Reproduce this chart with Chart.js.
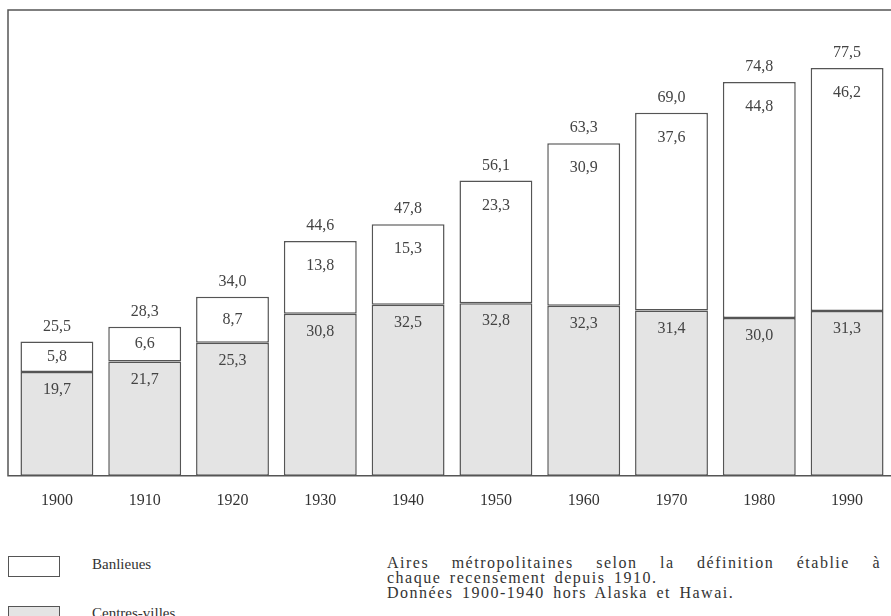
<!DOCTYPE html>
<html lang="fr">
<head>
<meta charset="utf-8">
<script src="https://cdn.jsdelivr.net/npm/chart.js@4"></script>
<style>
    html, body { margin: 0; padding: 0; background: #fff; }
    body { width: 891px; height: 616px; position: relative; overflow: hidden;
           font-family: "Liberation Serif", "DejaVu Serif", serif; color: #333; }
    #wrap { position: absolute; left: 0; top: 0; width: 891px; height: 535px; }
    .legend-box { position: absolute; left: 8px; width: 52px; height: 21px;
                  border: 1.5px solid #555; box-sizing: border-box; }
    .legend-text { position: absolute; left: 92px; font-size: 15px; line-height: 16px; }
    #note { position: absolute; left: 387px; top: 555px; width: 494px;
            font-size: 16px; line-height: 15px; letter-spacing: 1.5px; word-spacing: 3px; }
    #note div.just { text-align: justify; text-align-last: justify; }
</style>
</head>
<body>
<div id="wrap"><canvas id="popChart"></canvas></div>

<div class="legend-box" style="top:556px;background:#fff"></div>
<div class="legend-text" style="top:556px">Banlieues</div>
<div class="legend-box" style="top:606px;background:#e4e4e4"></div>
<div class="legend-text" style="top:605px">Centres-villes</div>

<div id="note">
    <div class="just">Aires métropolitaines selon la définition établie à</div>
    <div>chaque recensement depuis 1910.</div>
    <div>Données 1900-1940 hors Alaska et Hawai.</div>
</div>

<script>
// Data (millions d'habitants)
const years = ['1900', '1910', '1920', '1930', '1940', '1950', '1960', '1970', '1980', '1990'];
const centresVilles = [19.7, 21.7, 25.3, 30.8, 32.5, 32.8, 32.3, 31.4, 30.0, 31.3];
const banlieues = [5.8, 6.6, 8.7, 13.8, 15.3, 23.3, 30.9, 37.6, 44.8, 46.2];
const totals = [25.5, 28.3, 34.0, 44.6, 47.8, 56.1, 63.3, 69.0, 74.8, 77.5];

const lineColor = '#555';
const textColor = '#444';
const serif = '"Liberation Serif", "DejaVu Serif", serif';

function fmt(v) {
    return v.toFixed(1).replace('.', ',');
}

// Frame around the plot (left, top, baseline)
const framePlugin = {
    id: 'frame',
    afterDatasetsDraw(chart) {
        const ctx = chart.ctx;
        const area = chart.chartArea;
        const base = chart.scales.y.getPixelForValue(0);
        ctx.save();
        ctx.strokeStyle = lineColor;
        ctx.lineWidth = 1.5;
        ctx.beginPath();
        ctx.moveTo(chart.width, area.top);
        ctx.lineTo(8, area.top);
        ctx.lineTo(8, base);
        ctx.lineTo(chart.width, base);
        ctx.stroke();
        ctx.restore();
    }
};

// Value labels inside and above the bars
const labelPlugin = {
    id: 'valueLabels',
    afterDatasetsDraw(chart) {
        const ctx = chart.ctx;
        const low = chart.getDatasetMeta(0).data;
        const high = chart.getDatasetMeta(1).data;
        ctx.save();
        ctx.fillStyle = textColor;
        ctx.font = '16px ' + serif;
        ctx.textAlign = 'center';
        ctx.textBaseline = 'middle';
        years.forEach((y, i) => {
            const a = low[i];
            ctx.fillText(fmt(centresVilles[i]), a.x, a.y + 18);
            const b = high[i];
            const mid = (b.y + b.base) / 2;
            ctx.fillText(fmt(banlieues[i]), b.x, Math.min(b.y + 25, mid));
            ctx.fillText(fmt(totals[i]), b.x, b.y - 15);
        });
        ctx.restore();
    }
};

document.addEventListener('DOMContentLoaded', function() {
    const ctx = document.getElementById('popChart').getContext('2d');
    new Chart(ctx, {
        type: 'bar',
        data: {
            labels: years,
            datasets: [{
                label: 'Centres-villes',
                data: centresVilles,
                backgroundColor: '#e4e4e4',
                borderColor: lineColor,
                borderWidth: 1.5,
                borderSkipped: false
            }, {
                label: 'Banlieues',
                data: banlieues,
                backgroundColor: '#ffffff',
                borderColor: lineColor,
                borderWidth: 1.5,
                borderSkipped: false
            }]
        },
        options: {
            responsive: true,
            maintainAspectRatio: false,
            animation: false,
            datasets: {
                bar: { barPercentage: 0.83, categoryPercentage: 1.0 }
            },
            layout: { padding: { top: 10, left: 13, right: 0, bottom: 10 } },
            scales: {
                x: {
                    stacked: true,
                    grid: { display: false, drawTicks: false },
                    border: { display: false },
                    ticks: {
                        color: '#333',
                        font: { family: serif, size: 16 },
                        padding: 15,
                        maxRotation: 0
                    }
                },
                y: {
                    stacked: true,
                    display: false,
                    min: 0,
                    max: 88.5
                }
            },
            plugins: {
                legend: { display: false },
                tooltip: { enabled: false }
            }
        },
        plugins: [framePlugin, labelPlugin]
    });
});
</script>
</body>
</html>
